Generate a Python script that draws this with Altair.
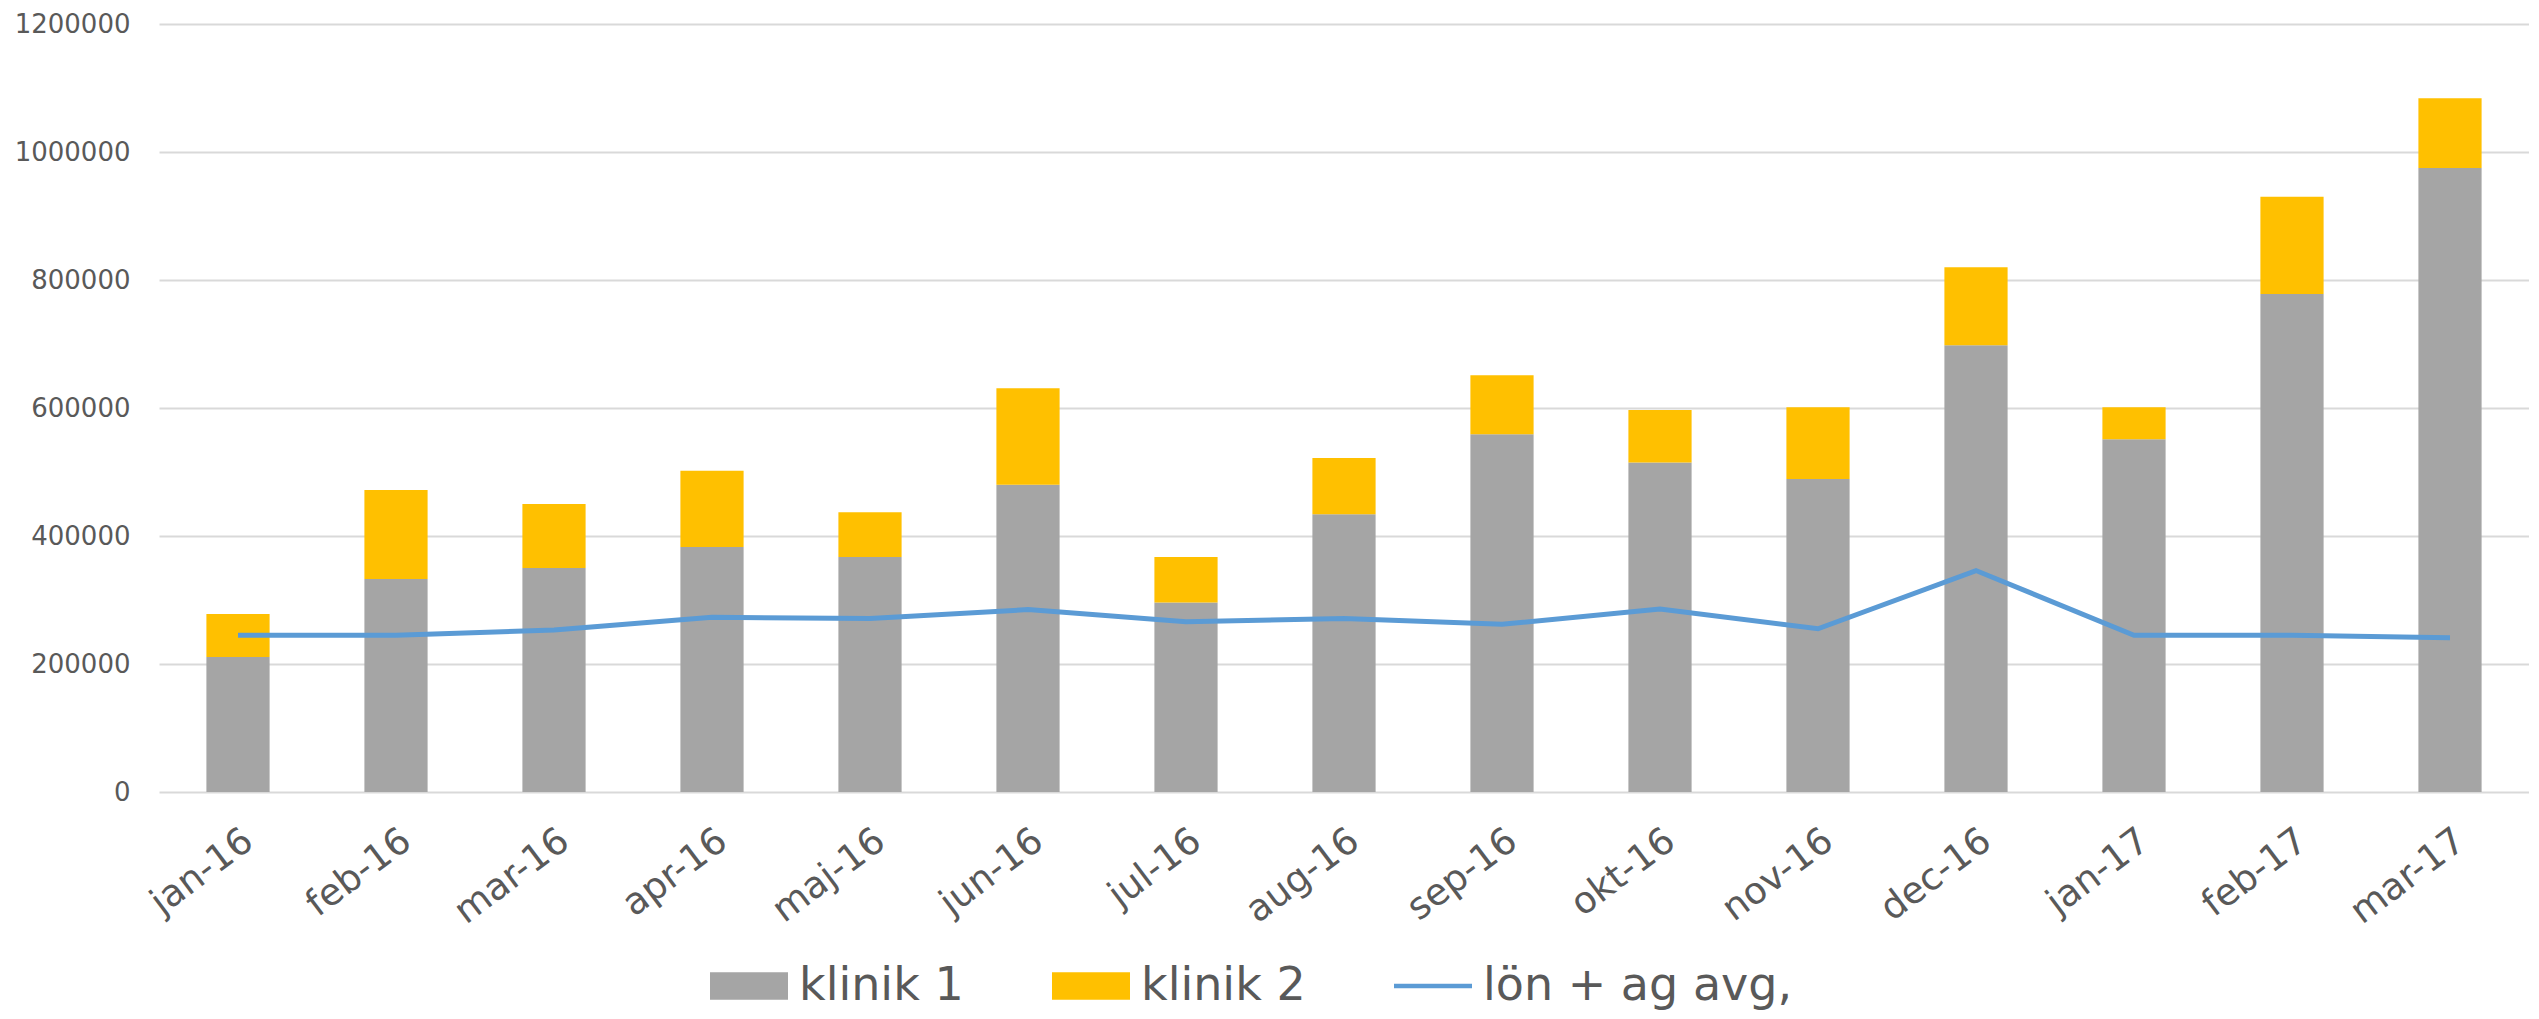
import altair as alt
import pandas as pd

months = ["jan-16", "feb-16", "mar-16", "apr-16", "maj-16", "jun-16", "jul-16",
          "aug-16", "sep-16", "okt-16", "nov-16", "dec-16", "jan-17", "feb-17", "mar-17"]
klinik1 = [211000, 333000, 350000, 383000, 367000, 480000, 296000, 434000,
           559000, 515000, 489000, 698000, 551000, 778000, 975000]
klinik2 = [67000, 139000, 100000, 119000, 70000, 151000, 71000, 88000,
           92000, 82000, 112000, 122000, 50000, 152000, 109000]
lon_ag = [245000, 245000, 253000, 273000, 271000, 285000, 266000, 271000,
          262000, 286000, 255000, 346000, 245000, 245000, 241000]
series_names = ["klinik 1", "klinik 2", "lön + ag avg,"]
series_colors = ["#A5A5A5", "#FFC000", "#5B9BD5"]
y_ticks = [0, 200000, 400000, 600000, 800000, 1000000, 1200000]

bars_df = pd.DataFrame({
    "month": months * 2,
    "series": [series_names[0]] * len(months) + [series_names[1]] * len(months),
    "value": klinik1 + klinik2,
    "stackorder": [0] * len(months) + [1] * len(months),
})
line_df = pd.DataFrame({
    "month": months,
    "series": [series_names[2]] * len(months),
    "value": lon_ag,
})

FONT = "DejaVu Sans"
LABEL_COLOR = "#595959"

rect_path = "M-1,-0.35H1V0.35H-1Z"
line_path = "M-1,-0.06H1V0.06H-1Z"
shape_expr = "datum.value === '" + series_names[2] + "' ? '" + line_path + "' : '" + rect_path + "'"

legend = alt.Legend(
    title=None,
    orient="none",
    direction="horizontal",
    legendX=551,
    legendY=923,
    padding=0,
    labelFont=FONT,
    labelFontSize=46,
    labelColor=LABEL_COLOR,
    labelLimit=800,
    labelOffset=11,
    columnPadding=88,
    symbolSize=6084,
    symbolStrokeWidth=0,
    symbolOpacity=1,
    symbolType=alt.ExprRef(expr=shape_expr),
)

color = alt.Color(
    "series:N",
    scale=alt.Scale(domain=series_names, range=series_colors),
    legend=legend,
)

x_enc = alt.X(
    "month:N",
    sort=months,
    scale=alt.Scale(paddingInner=0.6, paddingOuter=0.3),
    axis=alt.Axis(
        title=None,
        labelAngle=-37,
        labelFont=FONT,
        labelFontSize=37,
        labelColor=LABEL_COLOR,
        ticks=False,
        domain=False,
        grid=False,
        labelPadding=30,
    ),
)

y_axis = alt.Axis(
    title=None,
    values=y_ticks,
    format="d",
    labelFont=FONT,
    labelFontSize=26,
    labelColor=LABEL_COLOR,
    ticks=False,
    domain=False,
    labelPadding=29,
    gridColor="#D9D9D9",
    gridWidth=2,
)

bars = alt.Chart(bars_df).mark_bar().encode(
    x=x_enc,
    y=alt.Y("value:Q", stack="zero", scale=alt.Scale(domain=[0, 1200000]), axis=y_axis),
    color=color,
    order=alt.Order("stackorder:Q"),
)

line = alt.Chart(line_df).mark_line(strokeWidth=5).encode(
    x=alt.X("month:N", sort=months),
    y=alt.Y("value:Q"),
    color=color,
)

chart = alt.layer(bars, line).properties(
    width=2370,
    height=768,
    autosize=alt.AutoSizeParams(type="none"),
    padding={"left": 151, "top": 16, "right": 0, "bottom": 219},
).configure_view(strokeWidth=0)

chart.save("out.html", embed_options={"renderer": "svg", "actions": False})
